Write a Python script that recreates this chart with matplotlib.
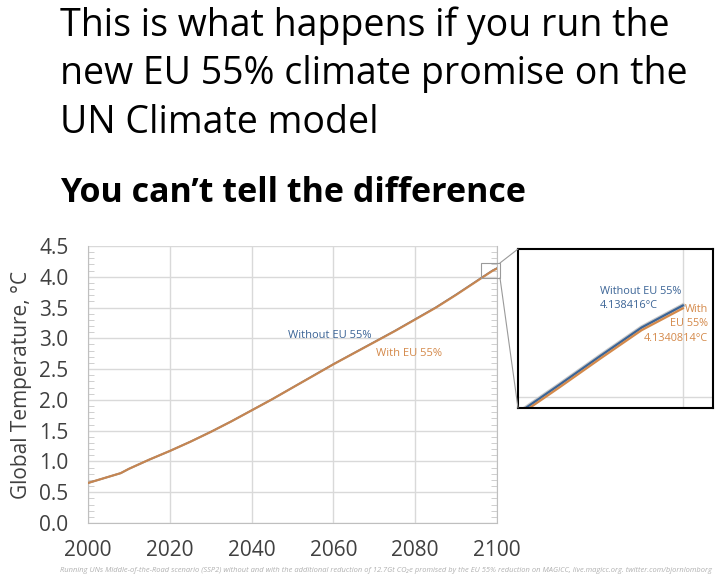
import matplotlib
matplotlib.use("Agg")
import matplotlib.pyplot as plt
from matplotlib.patches import Rectangle, ConnectionPatch
from matplotlib.ticker import MultipleLocator

plt.rcParams['font.family'] = ['Open Sans', 'DejaVu Sans']

# data
years = [2000, 2005, 2008, 2010, 2015, 2020, 2025, 2030, 2035, 2040, 2045, 2050,
         2055, 2060, 2065, 2070, 2075, 2080, 2085, 2090, 2095, 2096, 2097, 2098,
         2099, 2100]
without_eu = [0.65, 0.75, 0.81, 0.88, 1.03, 1.17, 1.32, 1.48, 1.65, 1.83, 2.01, 2.20,
              2.39, 2.58, 2.76, 2.94, 3.12, 3.31, 3.50, 3.71, 3.93, 3.975, 4.018, 4.062,
              4.105, 4.138416]
with_eu = [0.65, 0.75, 0.81, 0.88, 1.03, 1.17, 1.319, 1.479, 1.649, 1.829, 2.009, 2.199,
           2.388, 2.578, 2.758, 2.937, 3.117, 3.306, 3.496, 3.706, 3.926, 3.971, 4.014, 4.058,
           4.101, 4.1340814]
x_ticks = [2000, 2020, 2040, 2060, 2080, 2100]
y_ticks = [0.0, 0.5, 1.0, 1.5, 2.0, 2.5, 3.0, 3.5, 4.0, 4.5]

blue = '#3b6496'
orange = '#d4894a'
grid_c = '#d9d9d9'
tick_c = '#404040'

fig = plt.figure(figsize=(7.2, 5.82), dpi=100)

# titles
fig.text(60/720, 1 - 6/582, "This is what happens if you run the\nnew EU 55% climate promise on the\nUN Climate model",
         ha='left', va='top', fontsize=27, linespacing=1.37, color='black')
fig.text(60/720, 1 - 193/582, "You can\u2019t tell the difference", ha='left', va='center',
         fontsize=24.5, fontweight='bold', color='black')

# main chart
ax = fig.add_axes([88/720, 1 - 523/582, 409/720, 277/582])
ax.plot(years, without_eu, color=blue, lw=1.3, zorder=3)
ax.plot(years, with_eu, color=orange, lw=1.6, alpha=0.9, zorder=4)
ax.set_xlim(2000, 2100)
ax.set_ylim(0, 4.5)
ax.set_xticks(x_ticks)
ax.set_yticks(y_ticks)
ax.set_yticklabels(['%.1f' % v for v in y_ticks])
ax.yaxis.set_minor_locator(MultipleLocator(0.1))
ax.grid(True, color=grid_c, lw=1.0)
ax.set_axisbelow(True)
ax.tick_params(axis='x', length=0, pad=12, labelsize=15, labelcolor=tick_c)
ax.tick_params(axis='y', which='major', length=0, pad=14, labelsize=15, labelcolor=tick_c)
ax.tick_params(axis='y', which='minor', direction='in', length=4, color='#c8c8c8',
               left=True, right=True)
for s in ['left', 'bottom', 'right']:
    ax.spines[s].set_color('#bfbfbf')
ax.spines['top'].set_visible(False)
ax.set_ylabel("Global Temperature, \u00b0C", fontsize=15, color=tick_c, labelpad=5)

ax.text(2049, 3.05, "Without EU 55%", color=blue, fontsize=8, va='center', ha='left')
ax.text(2070.3, 2.76, "With EU 55%", color=orange, fontsize=8, va='center', ha='left')

# zoom box and inset
x0, x1, y0, y1 = 2096, 2100.73, 3.983, 4.224
ax.add_patch(Rectangle((x0, y0), x1 - x0, y1 - y0, fill=False, ec='#9a9a9a', lw=0.8,
                       clip_on=False, zorder=5))

axin = fig.add_axes([518/720, 1 - 408/582, 195/720, 159/582])
axin.plot(years, without_eu, color='#c8c8c8', lw=3.2)
axin.plot(years, without_eu, color=blue, lw=1.6)
axin.plot(years, with_eu, color=orange, lw=1.6)
axin.set_xlim(x0, x1)
axin.set_ylim(y0, y1)
axin.set_xticks([2100])
axin.set_yticks([4.0])
axin.grid(True, color=grid_c, lw=1.0)
axin.tick_params(length=0, labelbottom=False, labelleft=False)
for s in axin.spines.values():
    s.set_color('black')
    s.set_linewidth(1.5)

without_lines = ["Without EU 55%", "4.138416\u00b0C"]
with_lines = ["With", "EU 55%", "4.1340814\u00b0C"]
for i, t in enumerate(without_lines):
    axin.text(0.42, 0.735 - i * 0.09, t, transform=axin.transAxes,
              color=blue, fontsize=7.8, ha='left', va='center')
for i, t in enumerate(with_lines):
    axin.text(0.975, 0.62 - i * 0.09, t, transform=axin.transAxes,
              color=orange, fontsize=7.8, ha='right', va='center')

for (xa, ya), (xb, yb) in [((x1, y1), (x0, y1)), ((x1, y0), (x0, y0))]:
    con = ConnectionPatch(xyA=(xa, ya), coordsA=ax.transData, xyB=(xb, yb),
                          coordsB=axin.transData, color='#9a9a9a', lw=0.8)
    fig.add_artist(con)

# footnote
fig.text(60/720, 1 - 571/582,
         "Running UNs Middle-of-the-Road scenario (SSP2) without and with the additional reduction of 12.7Gt CO\u2082e "
         "promised by the EU 55% reduction on MAGICC, live.magicc.org. twitter.com/bjornlomborg",
         ha='left', va='center', fontsize=5.45, style='italic', color='#b0b0b0')

fig.savefig("out.png", dpi=100)
